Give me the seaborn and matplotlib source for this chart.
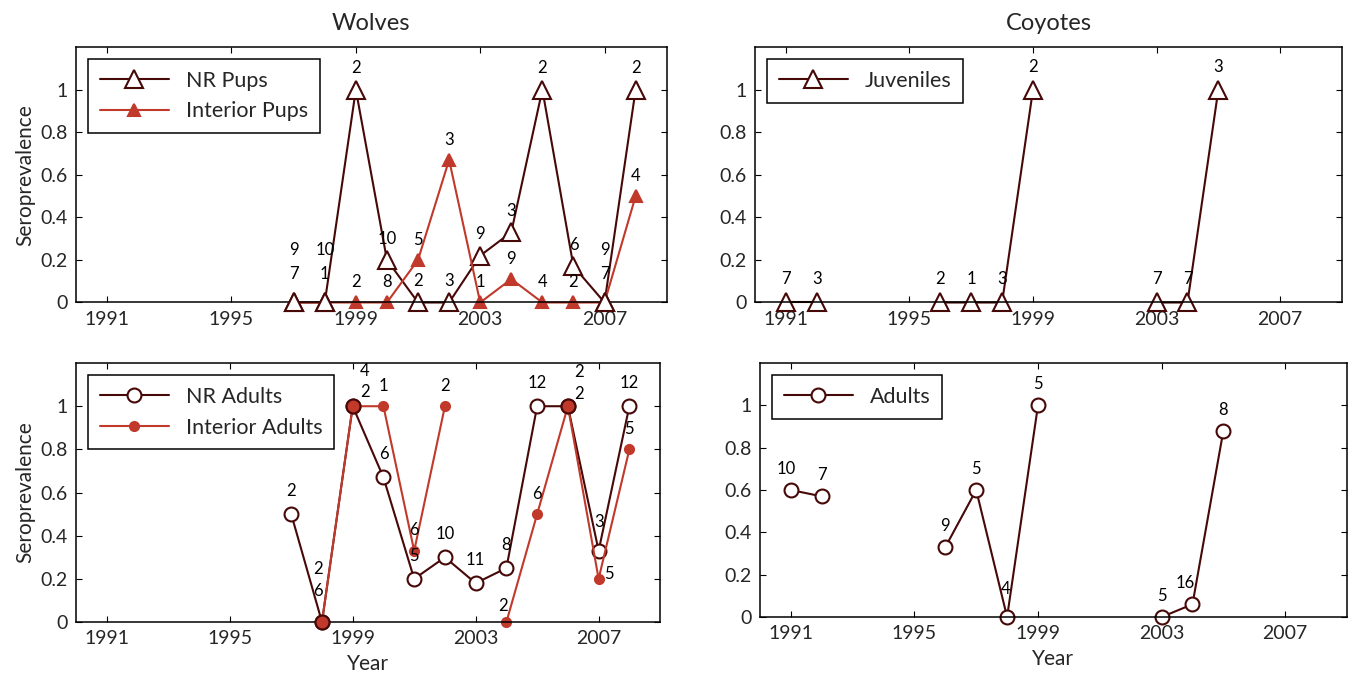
# %%
# Seroprevalence in wolves and coyotes, four panels
import matplotlib
matplotlib.use("Agg")
import matplotlib.pyplot as plt
import numpy as np
import pandas as pd
import seaborn as sns

nan = np.nan

# %%
# Data
wolf_years = list(range(1997, 2009))

nr_pups = [0, 0, 1, 0.2, 0, 0, 0.22, 0.33, 1, 0.17, 0, 1]
nr_pups_n = [9, 10, 2, 10, 2, 3, 9, 3, 2, 6, 9, 2]
interior_pups = [0, 0, 0, 0, 0.2, 0.67, 0, 0.11, 0, 0, 0, 0.5]
interior_pups_n = [7, 1, 2, 8, 5, 3, 1, 9, 4, 2, 7, 4]

nr_adults = [0.5, 0, 1, 0.67, 0.2, 0.3, 0.18, 0.25, 1, 1, 0.33, 1]
nr_adults_n = [2, 2, 4, 6, 5, 10, 11, 8, 12, 2, 3, 12]
interior_adults = [nan, 0, 1, 1, 0.33, 1, nan, 0, 0.5, 1, 0.2, 0.8]
interior_adults_n = [None, 6, 2, 1, 6, 2, None, 2, 6, 2, 5, 5]

coyote_years = list(range(1991, 2006))

coyote_juveniles = [0, 0, nan, nan, nan, 0, 0, 0, 1, nan, nan, nan, 0, 0, 1]
coyote_juveniles_n = [7, 3, None, None, None, 2, 1, 3, 2, None, None, None, 7, 7, 3]
coyote_adults = [0.6, 0.57, nan, nan, nan, 0.33, 0.6, 0, 1, nan, nan, nan, 0, 0.06, 0.88]
coyote_adults_n = [10, 7, None, None, None, 9, 5, 4, 5, None, None, None, 5, 16, 8]

year_ticks = [1991, 1995, 1999, 2003, 2007]
y_ticks = [0, 0.2, 0.4, 0.6, 0.8, 1]

# %%
# Styling
DARK = "#470808"
RED = "#c0392b"

sns.set_style("ticks")
plt.rcParams["font.family"] = ["Lato", "DejaVu Sans"]

fig = plt.figure(figsize=(13.51, 6.79), dpi=100)
ax_tl = fig.add_axes([0.0563, 0.5545, 0.4372, 0.3763])
ax_tr = fig.add_axes([0.5588, 0.5545, 0.4345, 0.3763])
ax_bl = fig.add_axes([0.0563, 0.0839, 0.4323, 0.3814])
ax_br = fig.add_axes([0.5625, 0.0913, 0.4345, 0.3741])


def draw_series(ax, years, values, label, color, marker, ms, mfc):
    df = pd.DataFrame({"year": years, "value": values})
    df["seg"] = df["value"].isna().cumsum()
    df = df.dropna()
    sns.lineplot(
        data=df, x="year", y="value", units="seg", estimator=None,
        sort=False, color=color, marker=marker, markersize=ms,
        markerfacecolor=mfc, markeredgecolor=color, markeredgewidth=1.5,
        linewidth=1.5, label=label, clip_on=False, ax=ax,
    )


def overlay_same(ax, years, a, b, marker, ms, mfc):
    # where both series sit on the same value, redraw the big marker on top
    a = np.array(a, dtype=float)
    b = np.array(b, dtype=float)
    same = np.isclose(a, b)
    x = np.array(years)[same]
    ax.plot(x, a[same], linestyle="none", marker=marker, markersize=ms,
            markerfacecolor=mfc, markeredgecolor=DARK, markeredgewidth=1.5,
            clip_on=False, zorder=5)


def label_points(ax, years, values, counts, nudges=None, dy=0.1):
    nudges = nudges or {}
    for yr, v, n in zip(years, values, counts):
        if n is None or np.isnan(v):
            continue
        ddx, ddy = nudges.get(yr, (0, dy))
        ax.text(yr + ddx, v + ddy, str(n), ha="center", va="center",
                fontsize=12, color="black")


def finish_axes(ax):
    ax.set_xlim(1990, 2009)
    ax.set_ylim(0, 1.2)
    ax.set_xticks(year_ticks)
    ax.set_yticks(y_ticks)
    ax.set_yticklabels([f"{t:g}" for t in y_ticks])
    ax.tick_params(direction="in", top=True, right=True, length=4,
                   labelsize=14, pad=6, color="black")
    for side in ax.spines.values():
        side.set_visible(True)
        side.set_color("black")
        side.set_linewidth(1.1)
    ax.set_xlabel("")
    ax.set_ylabel("")


def legend(ax):
    handles, labels = ax.get_legend_handles_labels()
    seen = {}
    for h, l in zip(handles, labels):
        seen.setdefault(l, h)
    ax.legend(list(seen.values()), list(seen.keys()), loc="upper left",
              fontsize=15.5, frameon=True, fancybox=False, framealpha=1,
              edgecolor="black", handlelength=3.2, borderaxespad=0.55,
              borderpad=0.55, labelspacing=0.5)
    ax.get_legend().get_frame().set_linewidth(1.1)


# %%
# Wolves pups
draw_series(ax_tl, wolf_years, nr_pups, "NR Pups", DARK, "^", 13, "white")
draw_series(ax_tl, wolf_years, interior_pups, "Interior Pups", RED, "^", 9, RED)
overlay_same(ax_tl, wolf_years, nr_pups, interior_pups, "^", 13, "white")
label_points(ax_tl, wolf_years, nr_pups, nr_pups_n,
             {1997: (0, 0.245), 1998: (0, 0.245), 2007: (0, 0.245)})
label_points(ax_tl, wolf_years, interior_pups, interior_pups_n,
             {1997: (0, 0.135), 1998: (0, 0.135), 2007: (0, 0.135)}, dy=0.095)
finish_axes(ax_tl)
legend(ax_tl)
ax_tl.set_title("Wolves", fontsize=17, pad=12)
ax_tl.set_ylabel("Seroprevalence", fontsize=15)

# Coyote juveniles
draw_series(ax_tr, coyote_years, coyote_juveniles, "Juveniles", DARK, "^", 13, "white")
label_points(ax_tr, coyote_years, coyote_juveniles, coyote_juveniles_n, dy=0.108)
finish_axes(ax_tr)
legend(ax_tr)
ax_tr.set_title("Coyotes", fontsize=17, pad=12)

# Wolves adults
draw_series(ax_bl, wolf_years, nr_adults, "NR Adults", DARK, "o", 10, "white")
draw_series(ax_bl, wolf_years, interior_adults, "Interior Adults", RED, "o", 6.5, RED)
overlay_same(ax_bl, wolf_years, nr_adults, interior_adults, "o", 10, RED)
label_points(ax_bl, wolf_years, nr_adults, nr_adults_n,
             {1998: (-0.13, 0.246), 1999: (0.4, 0.165), 2006: (0.36, 0.16),
              2007: (0, 0.135)}, dy=0.107)
label_points(ax_bl, wolf_years, interior_adults, interior_adults_n,
             {1998: (-0.13, 0.145), 1999: (0.4, 0.064), 2006: (0.36, 0.055),
              2007: (0.33, 0.023), 2004: (-0.1, 0.075)}, dy=0.095)
finish_axes(ax_bl)
legend(ax_bl)
ax_bl.set_ylabel("Seroprevalence", fontsize=15)
ax_bl.set_xlabel("Year", fontsize=15, labelpad=5)

# Coyote adults
draw_series(ax_br, coyote_years, coyote_adults, "Adults", DARK, "o", 10, "white")
label_points(ax_br, coyote_years, coyote_adults, coyote_adults_n,
             {1998: (-0.05, 0.133), 2004: (-0.25, 0.103), 1991: (-0.15, 0.098)},
             dy=0.1)
finish_axes(ax_br)
legend(ax_br)
ax_br.set_xlabel("Year", fontsize=15, labelpad=5)

fig.savefig("out.png", dpi=100)
